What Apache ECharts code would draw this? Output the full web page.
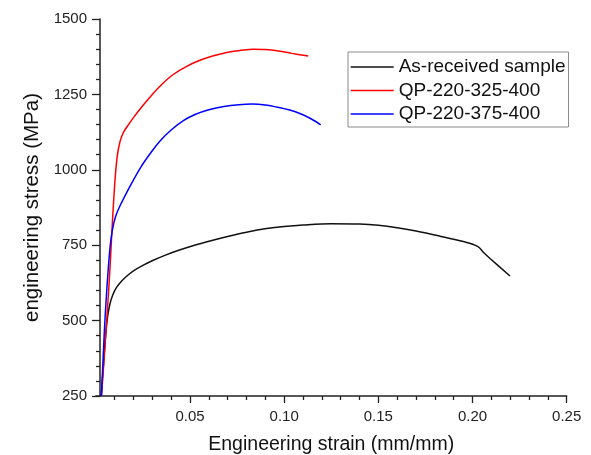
<!DOCTYPE html>
<html>
<head>
<meta charset="utf-8">
<script src="https://cdn.jsdelivr.net/npm/echarts@6/dist/echarts.min.js"></script>
<style>html,body{margin:0;padding:0;background:#fff;}#c{width:591px;height:455px;}</style>
</head>
<body>
<div id="c"></div>
<script>
// Series names
const seriesNames = ['As-received sample', 'QP-220-325-400', 'QP-220-375-400'];
// Tick labels
const xTicks = [0.05, 0.10, 0.15, 0.20, 0.25];
const yTicks = [250, 500, 750, 1000, 1250, 1500];

// As-received sample: strain (mm/mm) and stress (MPa)
const asReceivedStrain = [0.0028, 0.0040, 0.0052, 0.0062, 0.0075, 0.0090, 0.0110, 0.0135, 0.0165, 0.0200, 0.0250, 0.0305, 0.0370, 0.0440, 0.0520, 0.0606, 0.0700, 0.0800, 0.0907, 0.1000, 0.1100, 0.1250, 0.1400, 0.1500, 0.1600, 0.1700, 0.1827, 0.1951, 0.2027, 0.2060, 0.2093, 0.2199];
const asReceivedStress = [250, 347, 450, 510, 555, 585, 610, 630, 648, 665, 683, 700, 717, 733, 749, 764, 779, 793, 805, 812, 817, 821, 820, 816, 808, 797, 780, 762, 746, 725, 706, 648];

// QP-220-325-400
const qp325Strain = [0.0030, 0.0045, 0.0060, 0.0075, 0.0085, 0.0095, 0.0105, 0.0115, 0.0128, 0.0145, 0.0165, 0.0200, 0.0250, 0.0300, 0.0350, 0.0411, 0.0480, 0.0553, 0.0625, 0.0695, 0.0770, 0.0836, 0.0900, 0.0970, 0.1040, 0.1128];
const qp325Stress = [250, 380, 520, 670, 790, 900, 990, 1050, 1092, 1122, 1142, 1173, 1213, 1250, 1283, 1316, 1342, 1363, 1378, 1389, 1396, 1400, 1399, 1394, 1386, 1377];

// QP-220-375-400
const qp375Strain = [0.0030, 0.0045, 0.0055, 0.0066, 0.0076, 0.0088, 0.0105, 0.0128, 0.0190, 0.0240, 0.0290, 0.0340, 0.0400, 0.0465, 0.0530, 0.0600, 0.0680, 0.0760, 0.0829, 0.0900, 0.0960, 0.1030, 0.1090, 0.1140, 0.1194];
const qp375Stress = [250, 459, 570, 670, 745, 800, 845, 880, 955, 1010, 1055, 1095, 1132, 1163, 1184, 1199, 1210, 1216, 1218, 1215, 1208, 1198, 1185, 1170, 1149];

const colors = ['#111111', '#ff0000', '#0000ff'];
const font = '"Liberation Sans", Arial, sans-serif';

function pairs(xs, ys) { return xs.map((x, i) => [x, ys[i]]); }

const chart = echarts.init(document.getElementById('c'), null, {renderer: 'canvas'});
chart.setOption({
  animation: false,
  backgroundColor: '#ffffff',
  grid: {left: 95.8, right: 24.3, top: 19, bottom: 59, containLabel: false, outerBoundsMode: 'none'},
  legend: {
    orient: 'vertical',
    left: 348, top: 52,
    data: seriesNames,
    icon: 'rect',
    itemWidth: 43, itemHeight: 1.6, itemGap: 4.5,
    padding: [5.5, 3, 3.5, 2.7],
    borderColor: '#8a8a8a', borderWidth: 1,
    textStyle: {fontFamily: font, fontSize: 19, color: '#111'}
  },
  xAxis: {
    type: 'value',
    min: 0, max: 0.25, interval: 0.05,
    name: 'Engineering strain (mm/mm)',
    nameLocation: 'middle', nameGap: 39,
    nameTextStyle: {fontFamily: font, fontSize: 19.5, color: '#111'},
    axisLine: {show: true, onZero: false, lineStyle: {color: '#222', width: 1.5}},
    axisTick: {show: true, inside: false, length: 7, lineStyle: {color: '#222', width: 1.3}, customValues: xTicks},
    minorTick: {show: true, splitNumber: 5, length: 4, lineStyle: {color: '#222', width: 1.3}},
    axisLabel: {fontFamily: font, fontSize: 15, color: '#222', margin: 13, customValues: xTicks,
      formatter: v => (v === 0 ? '' : Number(v).toFixed(2))},
    splitLine: {show: false}
  },
  yAxis: {
    type: 'value',
    min: yTicks[0], max: yTicks[yTicks.length - 1], interval: 250,
    offset: -4.2,
    name: 'engineering stress (MPa)',
    nameLocation: 'middle', nameGap: 52,
    nameTextStyle: {fontFamily: font, fontSize: 20.5, color: '#111'},
    axisLine: {show: true, lineStyle: {color: '#222', width: 1.5}},
    axisTick: {show: true, inside: false, length: 8, lineStyle: {color: '#222', width: 1.3}},
    minorTick: {show: true, splitNumber: 5, length: 4, lineStyle: {color: '#222', width: 1.3}},
    axisLabel: {fontFamily: font, fontSize: 15, color: '#222', margin: 13, formatter: v => String(v)},
    splitLine: {show: false}
  },
  series: [
    {name: seriesNames[0], type: 'line', data: pairs(asReceivedStrain, asReceivedStress), symbol: 'none', smooth: 0.35, lineStyle: {color: colors[0], width: 1.5}, itemStyle: {color: colors[0]}},
    {name: seriesNames[1], type: 'line', data: pairs(qp325Strain, qp325Stress), symbol: 'none', smooth: 0.35, lineStyle: {color: colors[1], width: 1.5}, itemStyle: {color: colors[1]}},
    {name: seriesNames[2], type: 'line', data: pairs(qp375Strain, qp375Stress), symbol: 'none', smooth: 0.35, lineStyle: {color: colors[2], width: 1.5}, itemStyle: {color: colors[2]}}
  ]
});
</script>
</body>
</html>
